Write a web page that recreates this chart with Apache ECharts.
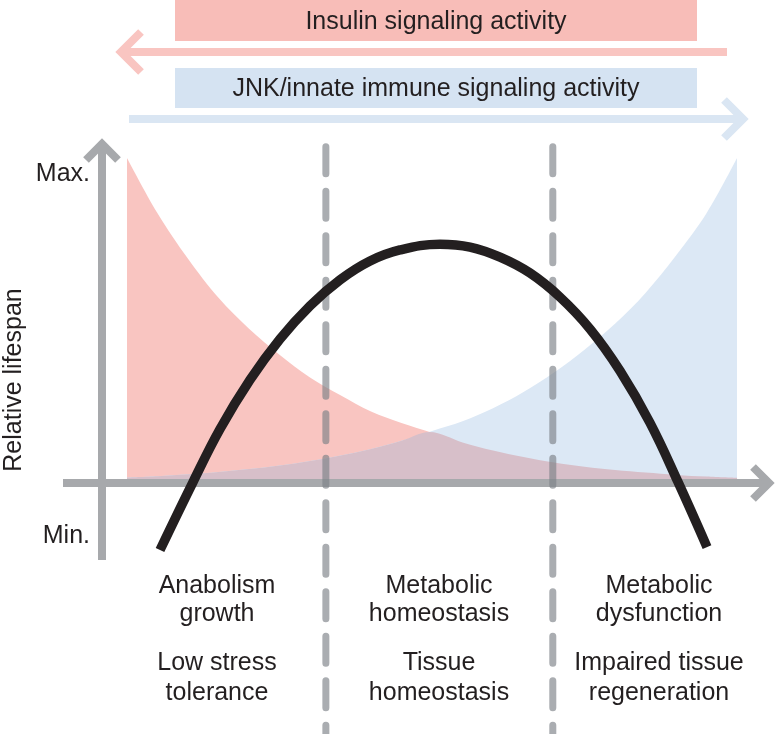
<!DOCTYPE html>
<html><head><meta charset="utf-8">
<script src="https://cdn.jsdelivr.net/npm/echarts@6/dist/echarts.min.js"></script>
<style>html,body{margin:0;padding:0;background:#fff}#c{width:776px;height:734px}</style>
</head><body><div id="c"></div>
<script>
// ---- data (conceptual units: x = signaling balance 0..100, y = relative level, 100 = Max.) ----
const xSamples        = [0, 5, 10, 15, 20, 25, 30, 35, 40, 45, 50, 55, 60, 65, 70, 75, 80, 85, 90, 95, 100];
const insulinActivity = [100, 83, 69, 57, 47.5, 39.5, 32.5, 27, 22, 18.5, 15.5, 12.5, 10, 8, 6.3, 5, 4, 3.2, 2.5, 2, 1.6];
const jnkActivity     = [1.7, 2.1, 2.7, 3.4, 4.3, 5.4, 6.8, 8.5, 10.5, 13, 16, 19, 23, 28, 34, 41, 49, 58.5, 70, 83, 100];
const overlapX        = [0, 5, 10, 15, 20, 25, 30, 35, 40, 45, 49.6, 55, 60, 65, 70, 75, 80, 85, 90, 95, 100];
const overlapActivity = [1.7, 2.1, 2.7, 3.4, 4.3, 5.4, 6.8, 8.5, 10.5, 13, 15.7, 12.5, 10, 8, 6.3, 5, 4, 3.2, 2.5, 2, 1.6];
const lifespanX       = [5.41, 10.82, 15.25, 20.16, 25.08, 30.0, 34.92, 39.84, 44.75, 51.31, 56.23, 61.15, 66.07, 70.98, 75.9, 80.82, 85.74, 90.33, 95.08];
const lifespanY       = [-20.6, 0.3, 16.6, 31.7, 44.3, 54.5, 62.5, 68.3, 71.7, 73.5, 72.6, 69.5, 64.6, 57.2, 47.4, 34.5, 18.5, 0.3, -19.7];
const phaseBoundaries = [32.6, 69.8];
const phaseLabels = [
  ['Anabolism', 'growth', 'Low stress', 'tolerance'],
  ['Metabolic', 'homeostasis', 'Tissue', 'homeostasis'],
  ['Metabolic', 'dysfunction', 'Impaired tissue', 'regeneration']
];
const topLabels = ['Insulin signaling activity', 'JNK/innate immune signaling activity'];
const yTickLabels = ['Max.', 'Min.'];
const yAxisTitle = 'Relative lifespan';

// ---- layout / style ----
const X_MIN = -20.82, X_MAX = 106.39, Y_MIN = -77.23, Y_MAX = 148.62;
const DASH_TOP = 103.5;
const FONT = '"Liberation Sans", Arial, Helvetica, sans-serif';
const TXT = '#231f20';
const AXIS_GRAY = '#a7a9ac';
const PINK_BOX = '#f8bdb8', PINK_FILL = '#f9c5c1', PINK_ARROW = '#f9c5c1';
const BLUE_BOX = '#d5e3f2', BLUE_FILL = '#dce8f5', BLUE_ARROW = '#dae6f3';
const OVERLAP = '#d7bfc9';

const zip = (xs, ys) => xs.map((x, i) => [x, ys[i]]);

const series = [
  { type: 'line', data: zip(xSamples, insulinActivity), smooth: 0.35, symbol: 'none', clip: false, silent: true, z: 1,
    lineStyle: { width: 0 }, areaStyle: { color: PINK_FILL, opacity: 1 } },
  { type: 'line', data: zip(xSamples, jnkActivity), smooth: 0.35, symbol: 'none', clip: false, silent: true, z: 1,
    lineStyle: { width: 0 }, areaStyle: { color: BLUE_FILL, opacity: 1 } },
  { type: 'line', data: zip(overlapX, overlapActivity), smooth: 0.35, symbol: 'none', clip: false, silent: true, z: 2,
    lineStyle: { width: 0 }, areaStyle: { color: OVERLAP, opacity: 1 } }
];
phaseBoundaries.forEach(b => {
  series.push({ type: 'line', data: [[b, DASH_TOP], [b, Y_MIN]], symbol: 'none', clip: false, silent: true, z: 6,
    lineStyle: { color: 'rgba(125,129,135,0.65)', width: 7, type: [27, 17.5], cap: 'round' } });
});
series.push({ type: 'line', data: zip(lifespanX, lifespanY), smooth: 0.4, symbol: 'none', clip: false, silent: true, z: 10,
  lineStyle: { color: TXT, width: 9.5, cap: 'butt' } });

function txt(text, x, y, size, align, extra) {
  return Object.assign({ type: 'text', x: x, y: y, z: 20, silent: true,
    style: { text: text, fill: TXT, font: size + 'px ' + FONT, align: align || 'center', verticalAlign: 'middle' } }, extra || {});
}
function pl(points, color, w, z) {
  return { type: 'polyline', z: z, silent: true, shape: { points: points },
    style: { stroke: color, lineWidth: w, fill: null, lineJoin: 'miter', lineCap: 'butt', miterLimit: 10 } };
}

const graphic = [
  { type: 'rect', z: 3, silent: true, shape: { x: 175, y: 0, width: 522, height: 41 }, style: { fill: PINK_BOX } },
  txt(topLabels[0], 436, 22, 25),
  pl([[727, 52], [121, 52]], PINK_ARROW, 8, 3),
  pl([[141, 32], [121, 52], [141, 72]], PINK_ARROW, 8, 3),
  { type: 'rect', z: 3, silent: true, shape: { x: 175, y: 68, width: 522, height: 40 }, style: { fill: BLUE_BOX } },
  txt(topLabels[1], 436, 89, 25),
  pl([[129, 119], [742, 119]], BLUE_ARROW, 8, 3),
  pl([[724, 100], [743, 119], [724, 138]], BLUE_ARROW, 8, 3),
  // axes
  pl([[102, 560], [102, 145]], AXIS_GRAY, 8, 5),
  pl([[86, 160], [102, 144], [118, 160]], AXIS_GRAY, 8, 5),
  pl([[63, 483], [768, 483]], AXIS_GRAY, 8, 5),
  pl([[753, 467], [769, 483], [753, 499]], AXIS_GRAY, 8, 5),
  txt(yTickLabels[0], 90, 174, 25, 'right'),
  txt(yTickLabels[1], 90, 536, 25, 'right'),
  txt(yAxisTitle, 14, 380, 25, 'center', { rotation: Math.PI / 2 })
];
const colX = [217, 439, 659];
const lineY = [586, 614, 663, 693];
phaseLabels.forEach((lines, i) => lines.forEach((t, j) => graphic.push(txt(t, colX[i], lineY[j], 25))));

const chart = echarts.init(document.getElementById('c'), null, { renderer: 'canvas' });
chart.setOption({
  animation: false,
  backgroundColor: '#ffffff',
  grid: { left: 0, right: 0, top: 0, bottom: 0 },
  xAxis: { type: 'value', min: X_MIN, max: X_MAX, show: false },
  yAxis: { type: 'value', min: Y_MIN, max: Y_MAX, show: false },
  series: series,
  graphic: graphic
});
</script>
</body></html>
